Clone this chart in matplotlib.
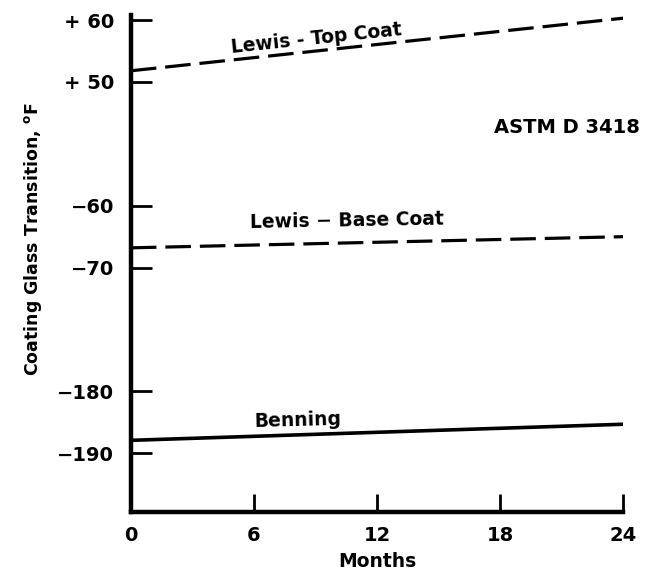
import numpy as np
import matplotlib
matplotlib.use("Agg")
import matplotlib.pyplot as plt

# data (deg F vs months)
months = [0, 24]
top_coat = [51.8, 60.3]
base_coat = [-66.8, -65.0]
benning = [-187.9, -185.3]

y_ticks = [60, 50, -60, -70, -180, -190]
y_tick_labels = ["+ 60", "+ 50", "\u221260", "\u221270", "\u2212180", "\u2212190"]
x_ticks = [0, 6, 12, 18, 24]

# broken y axis: each 10 deg block gets the same height, gaps of 20 units between blocks
knots_val = np.array([-200, -190, -180, -70, -60, 50, 60, 70])
knots_pos = np.array([-10, 0, 10, 30, 40, 60, 70, 80])


def fwd(v):
    return np.interp(v, knots_val, knots_pos)


def inv(p):
    return np.interp(p, knots_pos, knots_val)


plt.rcParams["font.family"] = "DejaVu Sans"
plt.rcParams["font.weight"] = "bold"

fig = plt.figure(figsize=(6.61, 5.80), dpi=100)
ax = fig.add_axes([0.198, 0.117, 0.745, 0.857])
ax.set_yscale("function", functions=(fwd, inv))

ax.plot(months, top_coat, color="black", lw=2.3, dashes=(8, 2.8))
ax.plot(months, base_coat, color="black", lw=2.3, dashes=(8, 2.8))
ax.plot(months, benning, color="black", lw=2.6)

ax.set_xlim(0, 24)
ax.set_ylim(-199.5, 60.8)

ax.set_yticks(y_ticks)
ax.set_yticklabels(y_tick_labels)
ax.set_xticks(x_ticks)
ax.set_xticklabels([str(t) for t in x_ticks])
ax.minorticks_off()

ax.tick_params(axis="y", direction="in", length=15, width=2, labelsize=14, pad=12)
ax.tick_params(axis="x", direction="in", length=13, width=2, labelsize=14, pad=10)

for side in ["top", "right"]:
    ax.spines[side].set_visible(False)
for side in ["left", "bottom"]:
    ax.spines[side].set_linewidth(3.2)

ax.set_xlabel("Months", fontsize=13.5, fontweight="bold", labelpad=5)
ax.set_ylabel("Coating Glass Transition, $\\mathregular{^{o}}$F", fontsize=12.5,
              fontweight="bold")
ax.yaxis.set_label_coords(-0.177, 0.55)

# curve labels
ax.text(4.85, 57.0, "Lewis - Top Coat", fontsize=13.5, fontweight="bold",
        rotation=6, va="center")
ax.text(5.8, -62.4, "Lewis \u2212 Base Coat", fontsize=13.5, fontweight="bold",
        rotation=1, va="center")
ax.text(17.7, 9.8, "ASTM D 3418", fontsize=14, fontweight="bold", va="center")
ax.text(6.0, -184.7, "Benning", fontsize=13.5, fontweight="bold",
        rotation=1.5, va="center")

fig.savefig("out.png", dpi=100)
